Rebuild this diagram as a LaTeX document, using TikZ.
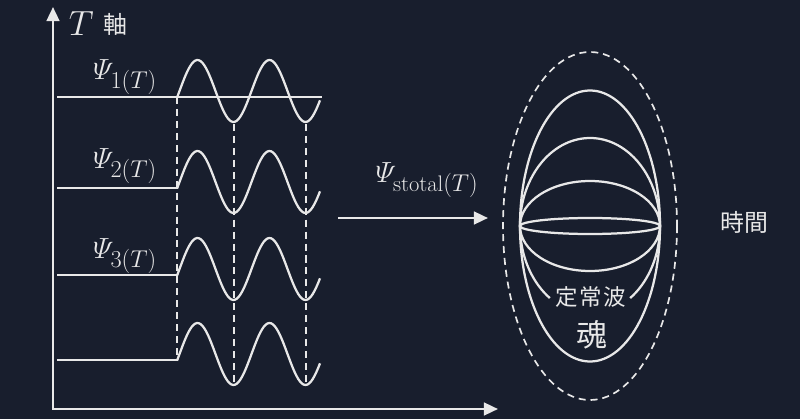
\documentclass[tikz,border=0pt]{standalone}
\usepackage{amsmath,amssymb}
\usepackage{fontspec}
\newfontfamily\cjk{Noto Sans CJK JP}
\usepackage{tikz}
\usetikzlibrary{arrows.meta,positioning,calc}
\DeclareMathSizes{21}{21}{17}{13}
\DeclareMathSizes{20}{20}{16}{12}

\definecolor{bg}{RGB}{24,30,45}
\definecolor{ink}{RGB}{232,232,232}

\tikzset{
    axisline/.style={ink, line width=1.8pt, -{Triangle[length=10pt,width=9pt]}},
    wave/.style={ink, line width=1.6pt},
    guide/.style={ink, line width=1.2pt, dash pattern=on 5pt off 3.5pt},
    psilabel/.style={text=ink, font=\fontsize{21}{24}\selectfont},
    jplabel/.style={text=ink, font=\cjk\fontsize{16}{18}\selectfont}
}

\begin{document}
\begin{tikzpicture}[x=0.025cm, y=-0.025cm]
\fill[bg] (0,0) rectangle (800,419);
\useasboundingbox (0,0) rectangle (800,419);
% Axes
\coordinate (O) at (53,409);
\coordinate (ytop) at (53,7);
\coordinate (xend) at (498,409);
\draw[axisline] (O) -- (ytop);
\draw[axisline] ($(O)+(-1,0)$) -- (xend);
\node[psilabel, font=\fontsize{25}{28}\selectfont, anchor=west] (tlab) at (64,24) {$T$};
\node[jplabel, font=\cjk\fontsize{17}{20}\selectfont, right=0pt of tlab] (jiku) {軸};
% Waves
\foreach \i/\L in {1/97, 2/188, 3/275, 4/360} {
    \coordinate (s\i) at (57,\L);
    \coordinate (w\i) at (177,\L);
    \draw[wave] plot[domain=177:320, samples=80, smooth]
        (\x, {\L - 6 - 31*sin(5*(\x-179.5))});
}
\coordinate (e1) at (322,97);
\draw[wave] (s1) -- (e1);
\foreach \i in {2,3,4} {
    \draw[wave] (s\i) -- (w\i);
}
\node[psilabel] (psi1) at (125,77) {$\varPsi_{1(T)}$};
\node[psilabel] (psi2) at (125,166) {$\varPsi_{2(T)}$};
\node[psilabel] (psi3) at (125,256) {$\varPsi_{3(T)}$};
% Dashed guides
\coordinate (d1a) at (177,97);  \coordinate (d1b) at (177,358);
\coordinate (d2a) at (234,124); \coordinate (d2b) at (234,384);
\coordinate (d3a) at (306,124); \coordinate (d3b) at (306,384);
\foreach \n in {1,2,3} {
    \draw[guide] (d\n a) -- (d\n b);
}
% Sum arrow
\coordinate (a1) at (338,218);
\coordinate (a2) at (488,218);
\draw[axisline] (a1) -- (a2);
\node[psilabel, font=\fontsize{20}{24}\selectfont] (psitot) at (427,180) {$\varPsi_{\mathrm{stotal}(T)}$};
% Soul
\coordinate (C) at (590,226);
\draw[guide] (C) ellipse (87 and 174);
\draw[wave] (C) ellipse (70 and 135.5);
\draw[wave] (C) ++(125:70 and 88) arc[start angle=125, end angle=415, x radius=70, y radius=88];
\draw[wave] (C) ellipse (70 and 45);
\draw[wave] (C) ellipse (70 and 8);
\node[jplabel] (teijo) at (591,297) {定\kern1pt常\kern1pt波};
\node[jplabel, font=\cjk\fontsize{22}{24}\selectfont] (tamashii) at (592,335) {魂};
\node[jplabel, font=\cjk\fontsize{17}{20}\selectfont] (jikan) at (744,222) {時間};
\end{tikzpicture}
\end{document}
